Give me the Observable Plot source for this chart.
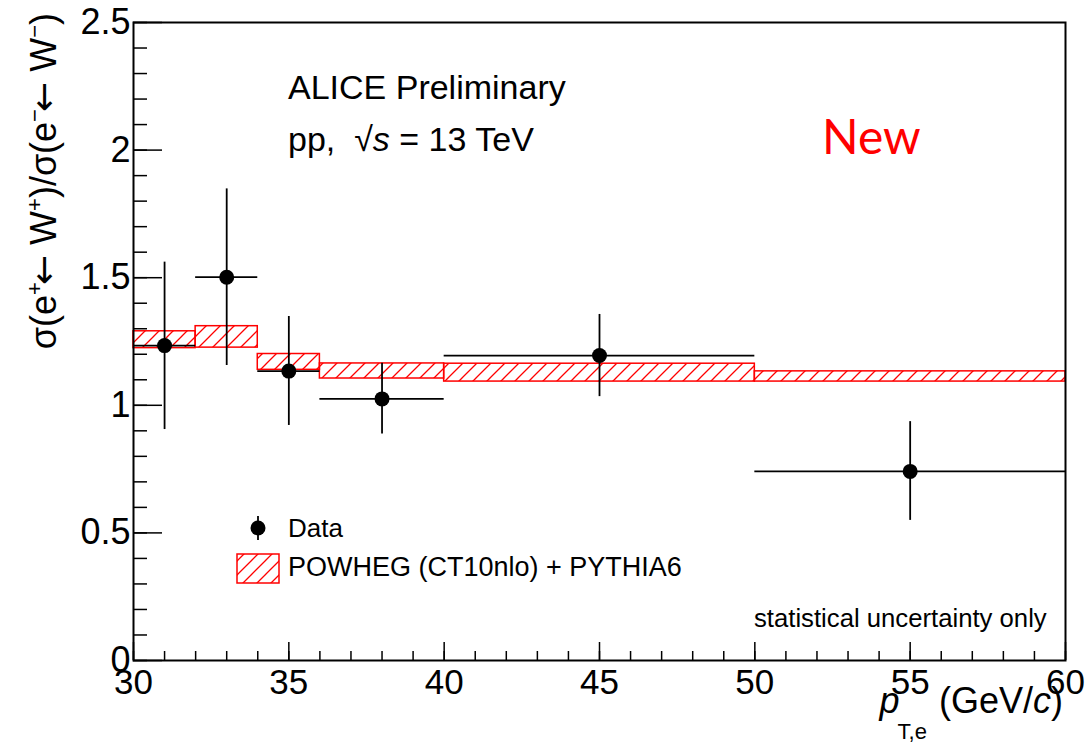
<!DOCTYPE html>
<html><head><meta charset="utf-8">
<script src="https://cdn.jsdelivr.net/npm/d3@7"></script>
<script src="https://cdn.jsdelivr.net/npm/@observablehq/plot@0.6"></script>
<style>
body{margin:0;background:#fff;}
#wrap{position:relative;width:1090px;height:747px;}
</style></head><body><div id="wrap"></div>
<script>
// Data points (ALICE preliminary, ratio W+/W- electrons)
const dataX   = [31, 33, 35, 38, 45, 55];
const dataXLo = [30, 32, 34, 36, 40, 50];
const dataXHi = [32, 34, 36, 40, 50, 60];
const dataY   = [1.234, 1.502, 1.134, 1.025, 1.195, 0.741];
const dataYLo = [0.905, 1.156, 0.921, 0.888, 1.034, 0.549];
const dataYHi = [1.561, 1.848, 1.348, 1.165, 1.356, 0.936];
// POWHEG model bands
const modelXLo = [30, 32, 34, 36, 40, 50];
const modelXHi = [32, 34, 36, 40, 50, 60];
const modelYLo = [1.224, 1.226, 1.139, 1.105, 1.093, 1.093];
const modelYHi = [1.290, 1.310, 1.201, 1.164, 1.163, 1.133];
// Axis ticks
const xMajor = [30, 35, 40, 45, 50, 55, 60];
const xLabels = ["30", "35", "40", "45", "50", "55", "60"];
const xMinor = d3.range(30, 61, 1);
const yMajor = [0, 0.5, 1, 1.5, 2, 2.5];
const yLabels = ["0", "0.5", "1", "1.5", "2", "2.5"];
const yMinor = d3.range(0, 26, 1).map(i => i / 10);

const data = dataX.map((x, i) => ({x, xlo: dataXLo[i], xhi: dataXHi[i], y: dataY[i], ylo: dataYLo[i], yhi: dataYHi[i]}));
const model = modelXLo.map((x1, i) => ({x1, x2: modelXHi[i], y1: modelYLo[i], y2: modelYHi[i]}));
const xLab = new Map(xMajor.map((v, i) => [v, xLabels[i]]));
const yLab = new Map(yMajor.map((v, i) => [v, yLabels[i]]));

const FONT = "'Liberation Sans', Arial, Helvetica, sans-serif";

const chart = Plot.plot({
  width: 1090, height: 747,
  marginLeft: 133, marginRight: 25, marginTop: 22, marginBottom: 87,
  x: {domain: [30, 60]},
  y: {domain: [0, 2.5]},
  style: {fontFamily: FONT, background: "white", color: "black"},
  marks: [
    Plot.rect(model, {x1: "x1", x2: "x2", y1: "y1", y2: "y2", fill: "url(#hatch)", stroke: "#ff0000", strokeWidth: 1.5}),
    Plot.ruleY(data, {y: "y", x1: "xlo", x2: "xhi", stroke: "black", strokeWidth: 1.8}),
    Plot.ruleX(data, {x: "x", y1: "ylo", y2: "yhi", stroke: "black", strokeWidth: 1.8}),
    Plot.dot(data, {x: "x", y: "y", r: 7.5, fill: "black", stroke: "none"}),
    Plot.axisX(xMinor, {tickSize: -9, tickFormat: () => "", label: null, strokeWidth: 1.5}),
    Plot.axisX(xMajor, {tickSize: -18, tickFormat: () => "", label: null, strokeWidth: 1.5}),
    Plot.axisX(xMajor, {tickSize: 0, tickPadding: 9, tickFormat: d => xLab.get(d), fontSize: 35, label: null}),
    Plot.axisY(yMinor, {tickSize: -14, tickFormat: () => "", label: null, strokeWidth: 1.5}),
    Plot.axisY(yMajor, {tickSize: -29, tickFormat: () => "", label: null, strokeWidth: 1.5}),
    Plot.axisY(yMajor, {tickSize: 0, tickPadding: 3, tickFormat: d => yLab.get(d), fontSize: 36, label: null}),
    Plot.frame({stroke: "black", strokeWidth: 2})
  ]
});
document.getElementById("wrap").appendChild(chart);

const svg = d3.select(chart);
const defs = svg.insert("defs", ":first-child");
const pat = defs.append("pattern").attr("id", "hatch").attr("patternUnits", "userSpaceOnUse")
  .attr("width", 14).attr("height", 14);
pat.append("path").attr("d", "M-3.5,3.5 L3.5,-3.5 M0,14 L14,0 M10.5,17.5 L17.5,10.5")
  .attr("stroke", "#ff0000").attr("stroke-width", 1.3).attr("fill", "none");

const g = svg.append("g").attr("font-family", FONT).attr("fill", "black").attr("text-anchor", "start");
g.append("text").attr("x", 288).attr("y", 99).attr("font-size", 34).text("ALICE Preliminary");
const pp = g.append("text").attr("x", 288).attr("y", 151).attr("font-size", 34);
pp.append("tspan").text("pp,\u00A0\u00A0\u221A");
pp.append("tspan").attr("font-style", "italic").text("s");
pp.append("tspan").text(" = 13 TeV");
g.append("text").attr("x", 822).attr("y", 154).attr("font-size", 48).attr("font-family", "Lato, 'Open Sans', sans-serif")
  .attr("fill", "#ff0000").text("New");
g.append("text").attr("x", 754).attr("y", 627).attr("font-size", 25.7).text("statistical uncertainty only");

// legend
g.append("line").attr("x1", 258).attr("x2", 258).attr("y1", 516).attr("y2", 540).attr("stroke", "black").attr("stroke-width", 1.8);
g.append("circle").attr("cx", 258).attr("cy", 528).attr("r", 7.5).attr("fill", "black");
g.append("text").attr("x", 288).attr("y", 537).attr("font-size", 26).text("Data");
g.append("rect").attr("x", 237).attr("y", 554).attr("width", 42).attr("height", 29)
  .attr("fill", "url(#hatch)").attr("stroke", "#ff0000").attr("stroke-width", 1.5);
g.append("text").attr("x", 288).attr("y", 576).attr("font-size", 27).text("POWHEG (CT10nlo) + PYTHIA6");

// x title
const xt = g.append("text").attr("x", 1063).attr("y", 713).attr("font-size", 36).attr("text-anchor", "end");
xt.append("tspan").attr("font-style", "italic").text("p");
xt.append("tspan").attr("font-size", 22).attr("dy", 26).attr("dx", -2).text("T,e");
xt.append("tspan").attr("dy", -26).attr("dx", 12).text("(GeV/");
xt.append("tspan").attr("font-style", "italic").text("c");
xt.append("tspan").text(")");

// y title
const yt = g.append("text").attr("transform", "translate(56,13) rotate(-90)").attr("font-size", 36).attr("text-anchor", "end");
const parts = [["\u03C3(e", 0], ["+", 1], ["\u2190", 2], [" W", 0], ["+", 1], [")/\u03C3(e", 0], ["\u2212", 1], ["\u2190", 2], [" W", 0], ["\u2212", 1], [")", 0]];
let prev = 0;
for (const [t, kind] of parts) {
  const s = yt.append("tspan").text(t);
  const shift = kind === 1 ? -14 : 0;
  if (shift !== prev) s.attr("dy", shift - prev);
  if (kind === 1) s.attr("font-size", 22);
  if (kind === 2) s.attr("font-family", "'DejaVu Sans', sans-serif").attr("dx", -3);
  prev = shift;
}
</script>
</body></html>
